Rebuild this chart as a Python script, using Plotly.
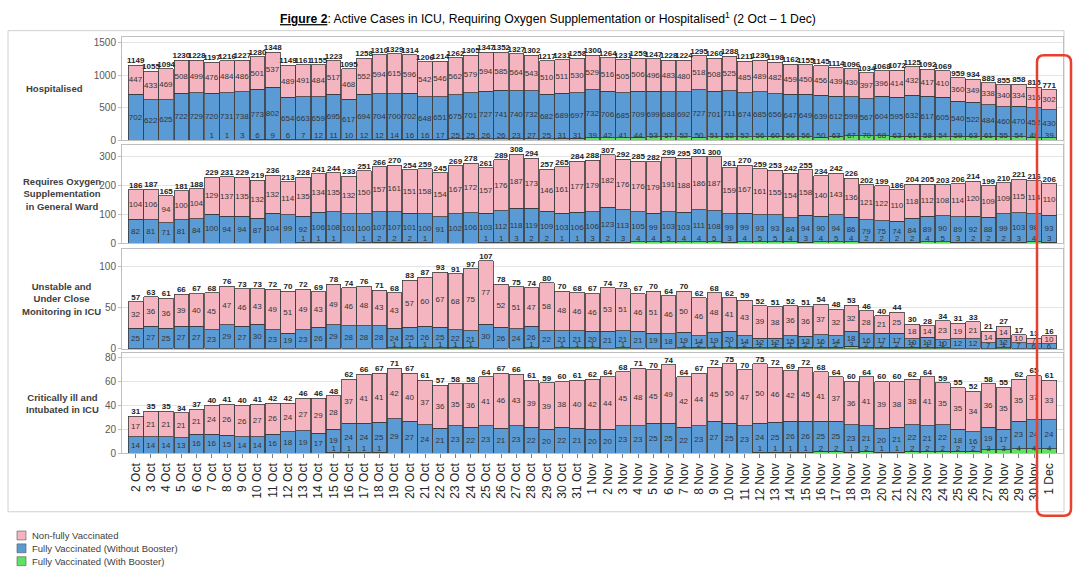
import plotly.graph_objects as go

# ---------------- data ----------------
dates = [f"{d} Oct" for d in range(2, 32)] + [f"{d} Nov" for d in range(1, 31)] + ["1 Dec"]

series_names = ["Non-fully Vaccinated", "Fully Vaccinated (Without Booster)", "Fully Vaccinated (With Booster)"]

hosp_non = [447, 433, 469, 508, 499, 476, 484, 486, 501, 537, 489, 491, 484, 517, 468, 552, 594, 615, 596, 542, 546, 562, 579, 594, 585, 564, 543, 510, 511, 530,
            529, 516, 505, 506, 496, 483, 480, 518, 508, 525, 485, 489, 482, 459, 450, 456, 439, 430, 397, 396, 414, 432, 417, 410, 360, 349, 338, 340, 334, 315, 302]
hosp_fv = [702, 622, 625, 722, 729, 720, 731, 738, 773, 802, 654, 663, 659, 695, 617, 694, 704, 700, 702, 648, 651, 675, 701, 727, 741, 740, 732, 682, 689, 697,
           732, 706, 685, 709, 699, 688, 692, 727, 701, 711, 674, 685, 656, 647, 649, 639, 612, 599, 567, 604, 595, 632, 617, 605, 540, 522, 484, 460, 470, 452, 430]
hosp_bst = [0, 0, 0, 0, 0, 1, 1, 3, 6, 9, 6, 7, 12, 11, 10, 12, 12, 14, 16, 16, 17, 25, 25, 26, 26, 23, 27, 25, 31, 31,
            39, 42, 41, 44, 53, 57, 52, 50, 51, 52, 52, 56, 60, 56, 56, 50, 63, 67, 70, 68, 63, 61, 58, 54, 59, 63, 61, 55, 54, 48, 39]
hosp_tot = [1149, 1055, 1094, 1230, 1228, 1197, 1216, 1227, 1280, 1348, 1149, 1161, 1155, 1223, 1095, 1258, 1310, 1329, 1314, 1206, 1214, 1262, 1305, 1347, 1352, 1327, 1302, 1217, 1231, 1258,
            1300, 1264, 1231, 1259, 1247, 1228, 1224, 1295, 1260, 1288, 1211, 1230, 1198, 1162, 1155, 1145, 1114, 1096, 1034, 1068, 1072, 1125, 1092, 1069, 959, 934, 883, 855, 858, 815, 771]

oxy_non = [104, 106, 94, 100, 104, 129, 137, 135, 132, 132, 114, 135, 134, 135, 132, 150, 157, 161, 151, 158, 154, 167, 172, 157, 176, 187, 173, 146, 161, 177,
           179, 182, 176, 176, 179, 191, 188, 186, 187, 159, 167, 161, 155, 154, 158, 140, 143, 136, 121, 122, 110, 118, 112, 108, 114, 120, 109, 109, 115, 114, 110]
oxy_fv = [82, 81, 71, 81, 84, 100, 94, 94, 87, 104, 99, 92, 106, 108, 101, 100, 107, 107, 101, 100, 91, 102, 106, 103, 112, 118, 119, 109, 103, 106,
          106, 123, 113, 105, 99, 103, 103, 111, 108, 99, 99, 93, 93, 84, 94, 90, 94, 86, 79, 75, 74, 84, 89, 90, 89, 92, 88, 99, 103, 98, 93]
oxy_bst = [0, 0, 0, 0, 0, 0, 0, 0, 0, 0, 0, 1, 1, 1, 0, 1, 2, 2, 2, 1, 0, 0, 0, 1, 1, 3, 2, 2, 1, 1,
           3, 2, 3, 4, 4, 5, 4, 4, 5, 3, 4, 5, 5, 4, 3, 4, 5, 4, 2, 2, 2, 2, 4, 5, 3, 2, 2, 2, 3, 4, 3]
oxy_tot = [186, 187, 165, 181, 188, 229, 231, 229, 219, 236, 213, 228, 241, 244, 233, 251, 266, 270, 254, 259, 245, 269, 278, 261, 289, 308, 294, 257, 265, 284,
           288, 307, 292, 285, 282, 299, 295, 301, 300, 261, 270, 259, 253, 242, 255, 234, 242, 226, 202, 199, 186, 204, 205, 203, 206, 214, 199, 210, 221, 216, 206]

icu_non = [32, 36, 36, 39, 40, 45, 47, 46, 43, 49, 51, 49, 43, 49, 46, 48, 43, 43, 57, 60, 67, 68, 75, 77, 52, 51, 47, 58, 48, 46,
           46, 53, 51, 46, 51, 46, 50, 46, 48, 41, 43, 39, 38, 36, 36, 37, 32, 32, 28, 21, 25, 18, 14, 23, 19, 21, 14, 14, 10, 7, 10]
icu_fv = [25, 27, 25, 27, 27, 23, 29, 27, 30, 23, 19, 23, 26, 29, 28, 28, 28, 24, 25, 26, 25, 22, 21, 30, 26, 24, 26, 22, 21, 21,
          20, 21, 21, 21, 19, 18, 19, 14, 19, 20, 14, 12, 12, 15, 13, 16, 14, 18, 16, 17, 17, 10, 13, 10, 12, 12, 7, 12, 7, 6, 6]
icu_bst = [0, 0, 0, 0, 0, 0, 0, 0, 0, 0, 0, 0, 0, 0, 0, 0, 0, 1, 1, 1, 1, 1, 1, 0, 0, 0, 1, 0, 1, 1,
           1, 0, 1, 0, 0, 0, 1, 2, 1, 1, 2, 1, 1, 1, 2, 1, 2, 3, 2, 2, 2, 2, 1, 1, 0, 0, 0, 1, 0, 0, 0]
icu_tot = [57, 63, 61, 66, 67, 68, 76, 73, 73, 72, 70, 72, 69, 78, 74, 76, 71, 68, 83, 87, 93, 91, 97, 107, 78, 75, 74, 80, 70, 68,
           67, 74, 73, 67, 70, 64, 70, 62, 68, 62, 59, 52, 51, 52, 51, 54, 48, 53, 46, 40, 44, 30, 28, 34, 31, 33, 21, 27, 17, 13, 16]

crit_non = [17, 21, 21, 21, 21, 24, 26, 26, 27, 26, 24, 27, 29, 28, 37, 41, 41, 42, 40, 37, 36, 35, 36, 41, 46, 43, 39, 39, 38, 40,
            42, 44, 45, 48, 45, 49, 42, 44, 45, 50, 47, 50, 46, 42, 45, 41, 37, 36, 41, 39, 38, 38, 41, 35, 35, 34, 36, 35, 35, 37, 33]
crit_fv = [14, 14, 14, 13, 16, 16, 15, 14, 14, 16, 18, 19, 17, 19, 24, 24, 25, 29, 27, 24, 21, 23, 22, 23, 21, 23, 22, 20, 22, 21,
           20, 20, 23, 23, 25, 25, 22, 23, 27, 25, 23, 24, 25, 26, 26, 25, 25, 23, 21, 20, 21, 22, 21, 22, 18, 16, 19, 17, 23, 24, 24]
crit_bst = [0, 0, 0, 0, 0, 0, 0, 0, 0, 0, 0, 0, 0, 1, 1, 1, 1, 0, 0, 0, 0, 0, 0, 0, 0, 0, 0, 0, 0, 0,
            0, 0, 0, 0, 0, 0, 0, 0, 0, 0, 0, 1, 1, 1, 1, 2, 2, 1, 2, 1, 1, 2, 2, 2, 2, 2, 3, 3, 4, 4, 4]
crit_tot = [31, 35, 35, 34, 37, 40, 41, 40, 41, 42, 42, 46, 46, 48, 62, 66, 67, 71, 67, 61, 57, 58, 58, 64, 67, 66, 61, 59, 60, 61,
            62, 64, 68, 71, 70, 74, 64, 67, 72, 75, 70, 75, 72, 69, 72, 68, 64, 60, 64, 60, 60, 62, 64, 59, 55, 52, 58, 55, 62, 65, 61]

panel_labels = ["Hospitalised", "Requires Oxygen<br>Supplementation<br>in General Ward",
                "Unstable and<br>Under Close<br>Monitoring in ICU", "Critically ill and<br>Intubated in ICU"]

# ---------------- style ----------------
W, H = 1080, 581
PINK, BLUE, GREEN = "#F5B5C0", "#5B9BD5", "#5EE35E"
EDGE = "#3A3A3A"
TXT = "#333333"
FONT = "Liberation Sans"


def px_x(p):
    return p / W


def px_y(p):
    return 1 - p / H


panels = [
    dict(non=hosp_non, fv=hosp_fv, bst=hosp_bst, tot=hosp_tot, ymax=1590, dtick=500, top=36, bot=141, lx=54),
    dict(non=oxy_non, fv=oxy_fv, bst=oxy_bst, tot=oxy_tot, ymax=340, dtick=100, top=146, bot=245, lx=62),
    dict(non=icu_non, fv=icu_fv, bst=icu_bst, tot=icu_tot, ymax=121, dtick=50, top=251, bot=352, lx=61),
    dict(non=crit_non, fv=crit_fv, bst=crit_bst, tot=crit_tot, ymax=84, dtick=20, top=356, bot=458, lx=62),
]

fig = go.Figure()
layout = {}


def lbl(vals):
    return [str(v) if v else "" for v in vals]


for i, p in enumerate(panels):
    n = "" if i == 0 else str(i + 1)
    xa, ya = "x" + n, "y" + n
    base = dict(x=dates, xaxis=xa, yaxis=ya, showlegend=False, hoverinfo="skip")
    text_opts = dict(textposition="inside", insidetextanchor="middle", textangle=0,
                     constraintext="none", insidetextfont=dict(size=8, color=TXT, family=FONT))
    fig.add_trace(go.Bar(y=p["bst"], name=series_names[2],
                         marker=dict(color=GREEN, line=dict(color=EDGE, width=0.8)), **base))
    fig.add_trace(go.Bar(y=p["fv"], name=series_names[1], text=lbl(p["fv"]),
                         marker=dict(color=BLUE, line=dict(color=EDGE, width=0.8)), **base, **text_opts))
    fig.add_trace(go.Bar(y=p["non"], name=series_names[0], text=lbl(p["non"]),
                         marker=dict(color=PINK, line=dict(color=EDGE, width=0.8)), **base, **text_opts))
    # booster labels just above the baseline
    fig.add_trace(go.Scatter(x=dates, y=[0 for _ in dates], xaxis=xa, yaxis=ya, mode="text",
                             text=lbl(p["bst"]), textposition="top center",
                             textfont=dict(size=8, color=TXT, family=FONT),
                             showlegend=False, hoverinfo="skip", cliponaxis=False))
    # totals
    fig.add_trace(go.Scatter(x=dates, y=p["tot"], xaxis=xa, yaxis=ya, mode="text",
                             text=[str(v) for v in p["tot"]], textposition="top center",
                             textfont=dict(size=8, color="#222222", family=FONT, weight="bold"),
                             showlegend=False, hoverinfo="skip", cliponaxis=False))

    layout["xaxis" + n] = dict(domain=[px_x(122), px_x(1063)], range=[-0.9, 60.9], anchor=ya,
                               type="category", categoryorder="array", categoryarray=dates,
                               showticklabels=(i == 3), tickangle=-90,
                               ticks="outside" if i == 3 else "", ticklen=4, tickcolor="#7F7F7F",
                               tickfont=dict(size=12, color="#262626", family=FONT),
                               showline=True, mirror=True, linecolor="#BFBFBF", linewidth=1,
                               showgrid=False, zeroline=False)
    if i > 0:
        layout["xaxis" + n]["matches"] = "x"
    layout["yaxis" + n] = dict(domain=[px_y(p["bot"]), px_y(p["top"])], range=[0, p["ymax"]],
                               dtick=p["dtick"], anchor=xa, showgrid=True, gridcolor="#E4E4E4",
                               tickfont=dict(size=10, color="#595959", family=FONT),
                               ticks="outside", ticklen=3, tickcolor="#BFBFBF",
                               showline=True, mirror=True, linecolor="#BFBFBF", linewidth=1,
                               zeroline=False)

annotations = []
# title
annotations.append(dict(
    text="<span style='text-decoration:underline'><b>Figure 2</b></span>: Active Cases in ICU, Requiring Oxygen Supplementation or Hospitalised<sup>1</sup> (2 Oct – 1 Dec)",
    x=px_x(548), y=px_y(17), xref="paper", yref="paper", xanchor="center", yanchor="middle",
    showarrow=False, font=dict(size=12.2, color="#000000", family=FONT)))
# panel labels
for i, p in enumerate(panels):
    annotations.append(dict(text="<b>" + panel_labels[i] + "</b>", x=px_x(p["lx"]), y=px_y((p["top"] + p["bot"]) / 2),
                            xref="paper", yref="paper", xanchor="center", yanchor="middle", align="center",
                            showarrow=False, font=dict(size=9.5, color="#404040", family=FONT)))

shapes = []
# outer frame
shapes.append(dict(type="rect", xref="paper", yref="paper", x0=px_x(8), x1=px_x(1064), y0=px_y(517), y1=px_y(30),
                   line=dict(color="#D0D0D0", width=1), fillcolor="rgba(0,0,0,0)", layer="below"))

# manual legend
leg_colors = [PINK, BLUE, GREEN]
for k, (nm, col) in enumerate(zip(series_names, leg_colors)):
    cy = 541 + 13 * k
    shapes.append(dict(type="rect", xref="paper", yref="paper", x0=px_x(17), x1=px_x(26),
                       y0=px_y(cy + 4.5), y1=px_y(cy - 4.5), fillcolor=col, line=dict(color="#555555", width=0.6)))
    annotations.append(dict(text=nm, x=px_x(30), y=px_y(cy), xref="paper", yref="paper",
                            xanchor="left", yanchor="middle", showarrow=False,
                            font=dict(size=9.5, color="#404040", family=FONT)))

# red rounded highlight box
x0, x1, y0, y1, r = 1037, 1071, 55, 521, 7


def P(x, y):
    return f"{px_x(x):.5f},{px_y(y):.5f}"


path = (f"M {P(x0 + r, y0)} L {P(x1 - r, y0)} Q {P(x1, y0)} {P(x1, y0 + r)} "
        f"L {P(x1, y1 - r)} Q {P(x1, y1)} {P(x1 - r, y1)} L {P(x0 + r, y1)} "
        f"Q {P(x0, y1)} {P(x0, y1 - r)} L {P(x0, y0 + r)} Q {P(x0, y0)} {P(x0 + r, y0)} Z")
shapes.append(dict(type="path", xref="paper", yref="paper", path=path,
                   line=dict(color="#E8402E", width=2.5), fillcolor="rgba(0,0,0,0)"))

fig.update_layout(
    width=W, height=H, autosize=False,
    margin=dict(l=0, r=0, t=0, b=0),
    paper_bgcolor="white", plot_bgcolor="white",
    barmode="stack", bargap=0.04,
    font=dict(family=FONT, color=TXT),
    annotations=annotations, shapes=shapes,
    **layout,
)

fig.write_html("out.html", config={"displayModeBar": False},
               post_script="document.body.style.margin='0';document.body.style.overflow='hidden';")
